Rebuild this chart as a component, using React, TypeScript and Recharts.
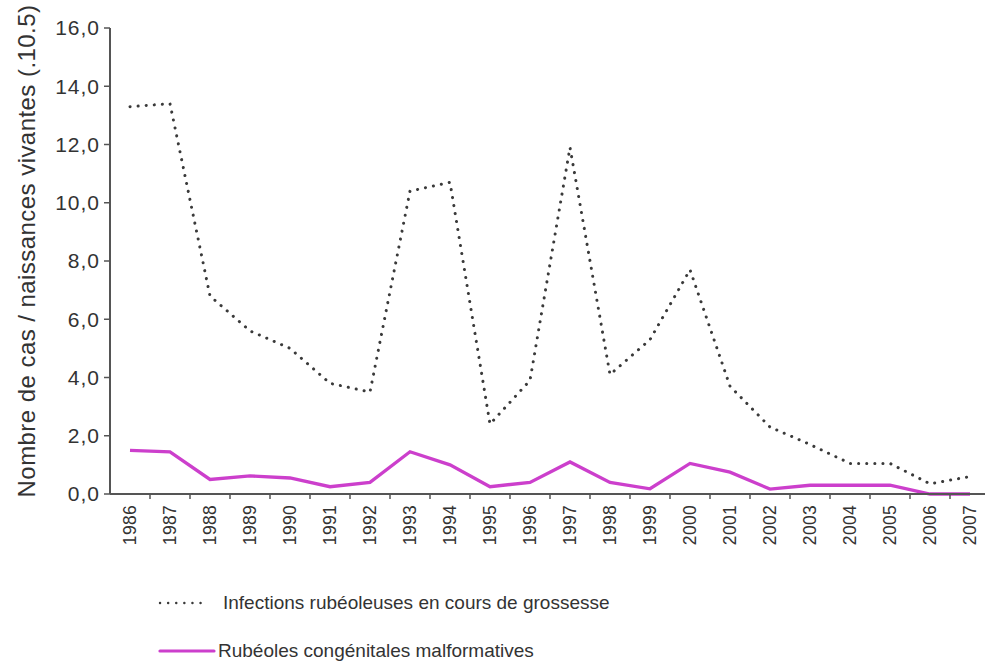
import { LineChart, Line, XAxis, YAxis, Legend } from "recharts";

const years = [
  "1986", "1987", "1988", "1989", "1990", "1991", "1992", "1993", "1994", "1995", "1996",
  "1997", "1998", "1999", "2000", "2001", "2002", "2003", "2004", "2005", "2006", "2007",
];
const infections = [
  13.3, 13.4, 6.8, 5.6, 5.0, 3.8, 3.5, 10.4, 10.7, 2.4, 3.9,
  11.9, 4.1, 5.3, 7.7, 3.7, 2.3, 1.7, 1.05, 1.05, 0.35, 0.6,
];
const malformatives = [
  1.5, 1.45, 0.5, 0.62, 0.55, 0.25, 0.4, 1.45, 1.0, 0.25, 0.4,
  1.1, 0.4, 0.18, 1.05, 0.75, 0.17, 0.3, 0.3, 0.3, 0.0, 0.0,
];
const yTicks = [0, 2, 4, 6, 8, 10, 12, 14, 16];
const seriesNames = [
  "Infections rubéoleuses en cours de grossesse",
  "Rubéoles congénitales malformatives",
];
const yLabel = "Nombre de cas / naissances vivantes (.10.5)";

const data = years.map((year, i) => ({
  year,
  infections: infections[i],
  malformatives: malformatives[i],
}));

const FONT = '"Liberation Sans", Arial, sans-serif';
const TEXT = "#333";
const AXIS = "#555";
const MAGENTA = "#cc3fcc";
const DOTTED = "#3a3a3a";
const DOTS = "0.1 8";

const CHART_W = 1000;
const CHART_H = 661;
const LEFT = 110;
const RIGHT = 10;
const PAD = 20; // half of a category step
const STEP = (CHART_W - LEFT - RIGHT) / years.length;

const YearTick = ({ x, y, payload }: any) => (
  <g>
    <line x1={x + STEP / 2} x2={x + STEP / 2} y1={y} y2={y + 5} stroke={AXIS} strokeWidth={1.5} />
    <text
      x={x}
      y={y + 11}
      dy="0.35em"
      transform={`rotate(-90 ${x} ${y + 11})`}
      textAnchor="end"
      fill={TEXT}
      fontSize={17.5}
      letterSpacing={0.3}
      fontFamily={FONT}
    >
      {payload.value}
    </text>
  </g>
);

const YLabel = ({ viewBox }: any) => {
  const cx = viewBox.x + 27;
  const cy = viewBox.y + viewBox.height / 2 - 10;
  return (
    <text
      x={cx}
      y={cy}
      dy="0.35em"
      transform={`rotate(-90 ${cx} ${cy})`}
      textAnchor="middle"
      fill={TEXT}
      fontSize={24}
      letterSpacing={0.45}
      fontFamily={FONT}
    >
      {yLabel}
    </text>
  );
};

const legendStyles = [
  { dash: DOTS, color: DOTTED, width: 2.4, len: 50, gap: 13 },
  { dash: undefined, color: MAGENTA, width: 3.2, len: 56, gap: 2 },
];

const LegendBox = () => (
  <div style={{ fontFamily: FONT, fontSize: 19, color: TEXT }}>
    {seriesNames.map((name, i) => (
      <div key={name} style={{ display: "flex", alignItems: "center", height: 30, marginBottom: 18 }}>
        <svg width={legendStyles[i].len + 2} height={10}>
          <line
            x1={2}
            x2={legendStyles[i].len}
            y1={5}
            y2={5}
            stroke={legendStyles[i].color}
            strokeWidth={legendStyles[i].width}
            strokeDasharray={legendStyles[i].dash}
            strokeLinecap="round"
          />
        </svg>
        <span style={{ marginLeft: legendStyles[i].gap, whiteSpace: "nowrap" }}>{name}</span>
      </div>
    ))}
  </div>
);

export default function App() {
  return (
    <div
      style={{
        position: "absolute",
        left: 0,
        top: 0,
        width: 985,
        height: 661,
        overflow: "hidden",
        background: "#fff",
      }}
    >
      <LineChart
        width={CHART_W}
        height={CHART_H}
        data={data}
        margin={{ top: 28, right: RIGHT, left: 0, bottom: 97 }}
      >
        <XAxis
          dataKey="year"
          height={70}
          padding={{ left: PAD, right: PAD }}
          axisLine={{ stroke: AXIS, strokeWidth: 2 }}
          tickLine={false}
          tickSize={0}
          tickMargin={0}
          interval={0}
          tick={<YearTick />}
        />
        <YAxis
          width={LEFT}
          domain={[0, 16]}
          ticks={yTicks}
          interval={0}
          tickFormatter={(v: number) => v.toFixed(1).replace(".", ",")}
          axisLine={{ stroke: AXIS, strokeWidth: 2 }}
          tickLine={{ stroke: AXIS, strokeWidth: 1.5 }}
          tickSize={6}
          tickMargin={4}
          tick={{ fill: TEXT, fontSize: 21, fontFamily: FONT, letterSpacing: 1 }}
          label={<YLabel />}
        />
        <Legend
          layout="vertical"
          align="center"
          verticalAlign="middle"
          content={<LegendBox />}
          wrapperStyle={{ top: 588, left: 158, width: "auto" }}
        />
        <Line
          type="linear"
          dataKey="infections"
          name={seriesNames[0]}
          stroke={DOTTED}
          strokeWidth={3}
          strokeDasharray={DOTS}
          strokeLinecap="round"
          dot={false}
          isAnimationActive={false}
        />
        <Line
          type="linear"
          dataKey="malformatives"
          name={seriesNames[1]}
          stroke={MAGENTA}
          strokeWidth={3.3}
          dot={false}
          isAnimationActive={false}
        />
      </LineChart>
    </div>
  );
}
